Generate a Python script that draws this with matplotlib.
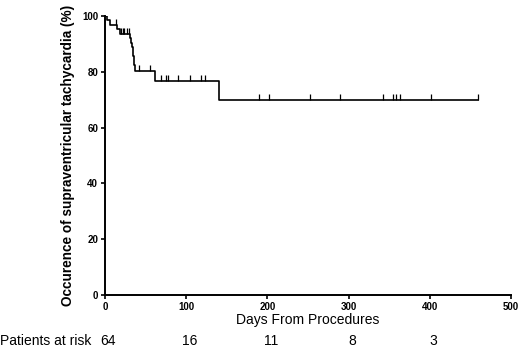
import numpy as np
import matplotlib
matplotlib.use("Agg")
import matplotlib.pyplot as plt
from matplotlib.transforms import blended_transform_factory

plt.rcParams["font.family"] = ["Liberation Sans", "DejaVu Sans"]

# Kaplan-Meier steps (day, % free)
step_days = [0, 3, 6, 15, 18, 31, 32, 33, 34, 35, 36, 37, 62, 140, 459]
step_pct = [100, 98.4, 96.9, 95.3, 93.7, 92.1, 90.5, 88.9, 87.3, 85.7, 82.5, 80.4, 76.7, 69.8, 69.8]

# censored observations
censor_days = [14, 20, 22, 24, 27, 29, 42, 56, 69, 75, 77, 90, 105, 118, 123,
               190, 202, 252, 290, 342, 355, 358, 363, 401, 459]

# number at risk
risk_days = [0, 100, 200, 300, 400]
risk_counts = [64, 16, 11, 8, 3]

fig = plt.figure(figsize=(5.2, 3.52), dpi=100)
ax = fig.add_axes([0.2019, 0.1619, 0.7808, 0.7926])

ax.step(step_days, step_pct, where="post", color="black", linewidth=1.2)

# censor marks sit on the curve level at that day
idx = np.searchsorted(step_days, censor_days, side="right") - 1
censor_pct = [step_pct[i] for i in idx]
ax.plot(censor_days, censor_pct, linestyle="none", marker=2, markersize=4,
        color="black", markeredgewidth=0.9)

ax.set_xlim(0, 500)
ax.set_ylim(0, 100)
ax.set_xticks([0, 100, 200, 300, 400, 500])
ax.set_yticks([0, 20, 40, 60, 80, 100])
for s in ["top", "right"]:
    ax.spines[s].set_visible(False)
for s in ["left", "bottom"]:
    ax.spines[s].set_linewidth(1.4)
ax.tick_params(direction="out", length=3, width=1.2, labelsize=7, pad=2)
for lbl in ax.get_xticklabels() + ax.get_yticklabels():
    lbl.set_fontweight("bold")

ax.set_xlabel("Days From Procedures", fontsize=10, labelpad=1)
ax.set_ylabel("Occurence of supraventricular tachycardia (%)", fontsize=9.8,
              fontweight="bold", labelpad=5)

# patients at risk row
trans = blended_transform_factory(ax.transData, fig.transFigure)
fig.text(0.0, 0.03, "Patients at risk", fontsize=10, ha="left", va="center")
for d, n in zip(risk_days, risk_counts):
    ax.text(d + 4, 0.03, str(n), transform=trans, fontsize=10,
            ha="center", va="center", clip_on=False)

fig.savefig("out.png", dpi=100)
